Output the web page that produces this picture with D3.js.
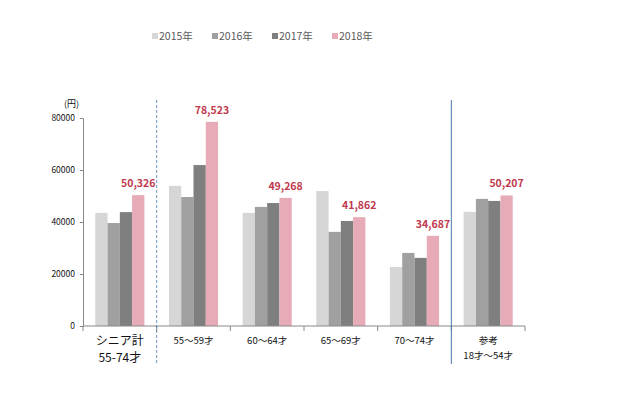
<!DOCTYPE html>
<html>
<head>
<meta charset="utf-8">
<script src="https://cdn.jsdelivr.net/npm/d3@7"></script>
<style>
  body { margin: 0; background: #fff; }
  text { font-family: "Noto Sans CJK JP", "DejaVu Sans", sans-serif; }
</style>
</head>
<body>
<div id="chart"></div>
<script>
// categories, series and values
var categories = ["シニア計\n55-74才", "55～59才", "60～64才", "65～69才", "70～74才", "参考\n18才～54才"];
var years = ["2015年", "2016年", "2017年", "2018年"];
var v2015 = [43500, 53900, 43500, 51900, 22700, 43900];
var v2016 = [39600, 49600, 45800, 36200, 28100, 48900];
var v2017 = [43800, 61900, 47300, 40400, 26200, 48100];
var v2018 = [50326, 78523, 49268, 41862, 34687, 50207];
var yTicks = [0, 20000, 40000, 60000, 80000];

var colors = ["#d6d6d6", "#a0a0a0", "#7f7f7f", "#e6abb6"];
var series = [v2015, v2016, v2017, v2018];

var width = 617, height = 396;

var svg = d3.select("#chart").append("svg")
  .attr("width", width)
  .attr("height", height);

// scales
var x = d3.scaleBand()
  .domain(categories)
  .range([83, 525])
  .paddingInner(0)
  .paddingOuter(0);

var x1 = d3.scaleBand()
  .domain(years)
  .range([0, x.bandwidth()])
  .paddingOuter(1);

var y = d3.scaleLinear()
  .domain([0, 80000])
  .range([326, 118]);

// bars
var rows = [];
categories.forEach(function(c, i) {
  years.forEach(function(yr, j) {
    rows.push({cat: c, year: yr, value: series[j][i], idx: j});
  });
});

svg.append("g").selectAll("rect")
  .data(rows)
  .enter()
  .append("rect")
  .attr("x", d => x(d.cat) + x1(d.year))
  .attr("y", d => y(d.value))
  .attr("width", x1.bandwidth())
  .attr("height", d => y(0) - y(d.value))
  .attr("fill", d => colors[d.idx]);

// data labels for 2018
svg.append("g").selectAll("text")
  .data(rows.filter(d => d.idx == 3))
  .enter()
  .append("text")
  .attr("x", d => x(d.cat) + x1(d.year) + x1.bandwidth() / 2)
  .attr("y", d => y(d.value) - 8)
  .attr("text-anchor", "middle")
  .attr("fill", "#c0394d")
  .attr("font-size", "10.5px")
  .attr("font-weight", "bold")
  .text(d => d3.format(",")(d.value));

// y axis
var y_axis = d3.axisLeft(y)
  .tickValues(yTicks)
  .tickSize(3)
  .tickFormat(d3.format("d"));

var yg = svg.append("g")
  .attr("transform", "translate(83,0)")
  .call(y_axis);
yg.select(".domain").attr("stroke", "#888");
yg.selectAll(".tick line").attr("stroke", "#888");
yg.selectAll(".tick text")
  .attr("font-size", "8.5px")
  .attr("fill", "#111")
  .attr("x", -8);

svg.append("text")
  .attr("x", 64)
  .attr("y", 107)
  .attr("font-size", "9px")
  .attr("fill", "#111")
  .text("(円)");

// x axis
var xg = svg.append("g").attr("transform", "translate(0,326)");
xg.append("line")
  .attr("x1", x.range()[0]).attr("x2", x.range()[1])
  .attr("y1", 0).attr("y2", 0)
  .attr("stroke", "#888");
xg.selectAll(".xt")
  .data(categories.concat(["end"]))
  .enter()
  .append("line")
  .attr("x1", (d, i) => x.range()[0] + i * x.bandwidth())
  .attr("x2", (d, i) => x.range()[0] + i * x.bandwidth())
  .attr("y1", 0).attr("y2", 5)
  .attr("stroke", "#888");

// category labels
categories.forEach(function(c, i) {
  var lines = c.split("\n");
  var big = (i == 0);
  var t = svg.append("text")
    .attr("x", x(c) + x.bandwidth() / 2)
    .attr("y", big ? 345 : 344)
    .attr("text-anchor", "middle")
    .attr("fill", "#111")
    .attr("font-size", big ? "12px" : "9.5px");
  lines.forEach(function(l, k) {
    t.append("tspan")
      .attr("x", x(c) + x.bandwidth() / 2)
      .attr("dy", k == 0 ? 0 : (big ? 17 : 15))
      .text(l);
  });
});

// separators
svg.append("line")
  .attr("x1", x(categories[1])).attr("x2", x(categories[1]))
  .attr("y1", 100).attr("y2", 364)
  .attr("stroke", "#4a7ab0")
  .attr("stroke-width", 0.8)
  .attr("stroke-dasharray", "3,2");
svg.append("line")
  .attr("x1", x(categories[5])).attr("x2", x(categories[5]))
  .attr("y1", 100).attr("y2", 364)
  .attr("stroke", "#4a7ab0")
  .attr("stroke-width", 1);

// legend
var legend = svg.append("g").selectAll("g")
  .data(years)
  .enter()
  .append("g")
  .attr("transform", (d, i) => "translate(" + (152 + i * 60) + ",36)");
legend.append("rect")
  .attr("x", 0).attr("y", -3)
  .attr("width", 6).attr("height", 6)
  .attr("fill", (d, i) => colors[i]);
legend.append("text")
  .attr("x", 7)
  .attr("y", 4)
  .attr("font-size", "10.5px")
  .attr("fill", "#595959")
  .text(d => d);
</script>
</body>
</html>
